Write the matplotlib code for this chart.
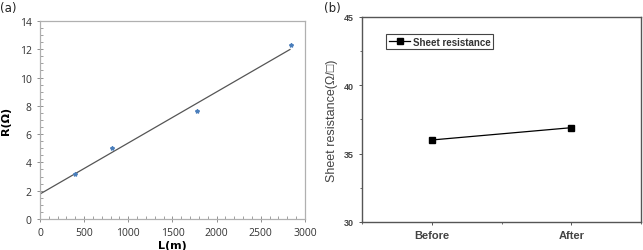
import numpy as np
import matplotlib.pyplot as plt
from matplotlib.ticker import MultipleLocator

# panel (a): resistance vs length
length = [400, 820, 1780, 2840]
resistance = [3.2, 5.05, 7.6, 12.3]

# panel (b): sheet resistance
stages = ["Before", "After"]
sheet_res = [36.0, 36.9]

fig = plt.figure(figsize=(6.43, 2.51), dpi=100)

# ---- (a)
ax1 = fig.add_axes([0.0622, 0.1235, 0.4121, 0.789])
slope, icpt = np.polyfit(length, resistance, 1)
xfit = np.array([10, 2830])
ax1.plot(xfit, slope * xfit + icpt, color="#555555", lw=0.9)
ax1.plot(length, resistance, "*", color="#4a7ebb", ms=3, ls="none")
ax1.set_xlim(0, 3000)
ax1.set_ylim(0, 14)
ax1.xaxis.set_major_locator(MultipleLocator(500))
ax1.xaxis.set_minor_locator(MultipleLocator(100))
ax1.yaxis.set_major_locator(MultipleLocator(2))
ax1.yaxis.set_minor_locator(MultipleLocator(0.5))
for s in ax1.spines.values():
    s.set_color("#b0b0b0")
    s.set_linewidth(0.9)
ax1.tick_params(which="major", direction="inout", length=5, width=0.7,
                color="#909090", labelsize=7.5, labelcolor="#333333")
ax1.tick_params(which="minor", direction="in", length=2.5, width=0.6, color="#909090")
for lab in ax1.get_xticklabels() + ax1.get_yticklabels():
    lab.set_family("Open Sans")
ax1.set_ylabel("R(Ω)", fontsize=8, fontweight="bold", family="DejaVu Sans", labelpad=6)
fig.text(0.268, 0.0, "L(m)", fontsize=8, fontweight="bold", ha="center", va="bottom")
fig.text(0.0, 0.965, "(a)", fontsize=8.5, ha="left", va="center", color="#222222")

# ---- (b)
ax2 = fig.add_axes([0.563, 0.1116, 0.4339, 0.8167])
xpos = np.arange(len(stages))
ax2.plot(xpos, sheet_res, "-s", color="black", ms=4, lw=0.9, mfc="black",
         label="Sheet resistance")
ax2.set_xlim(-0.5, 1.5)
ax2.set_ylim(30, 45)
ax2.set_xticks(xpos)
ax2.set_xticklabels(stages)
ax2.xaxis.set_minor_locator(MultipleLocator(0.5))
ax2.yaxis.set_major_locator(MultipleLocator(5))
ax2.yaxis.set_minor_locator(MultipleLocator(2.5))
for s in ax2.spines.values():
    s.set_color("#555555")
    s.set_linewidth(1.0)
ax2.tick_params(which="major", direction="out", length=2.5, width=0.7, color="#555555")
ax2.tick_params(which="minor", direction="out", length=1.5, width=0.6, color="#555555")
ax2.tick_params(axis="y", labelsize=6.5, labelcolor="#444444")
ax2.tick_params(axis="x", labelsize=8, labelcolor="#444444")
for lab in ax2.get_xticklabels():
    lab.set_family("Liberation Sans")
    lab.set_fontweight("bold")
for lab in ax2.get_yticklabels():
    lab.set_family("Liberation Sans")
    lab.set_fontweight("bold")
ax2.set_ylabel("Sheet resistance(Ω/□)", fontsize=9,
               family=["Liberation Sans", "DejaVu Sans"],
               color="#444444", labelpad=4)
leg = ax2.legend(loc="upper left", bbox_to_anchor=(0.07, 0.94), fancybox=False,
                 framealpha=1, edgecolor="#444444", handlelength=2.2,
                 borderpad=0.25, handletextpad=0.3,
                 prop={"family": "Liberation Sans", "size": 7, "weight": "bold"})
leg.get_frame().set_linewidth(0.8)
for t in leg.get_texts():
    t.set_color("#333333")
fig.text(0.504, 0.965, "(b)", fontsize=8.5, ha="left", va="center", color="#222222")

fig.savefig("out.png", dpi=100)
